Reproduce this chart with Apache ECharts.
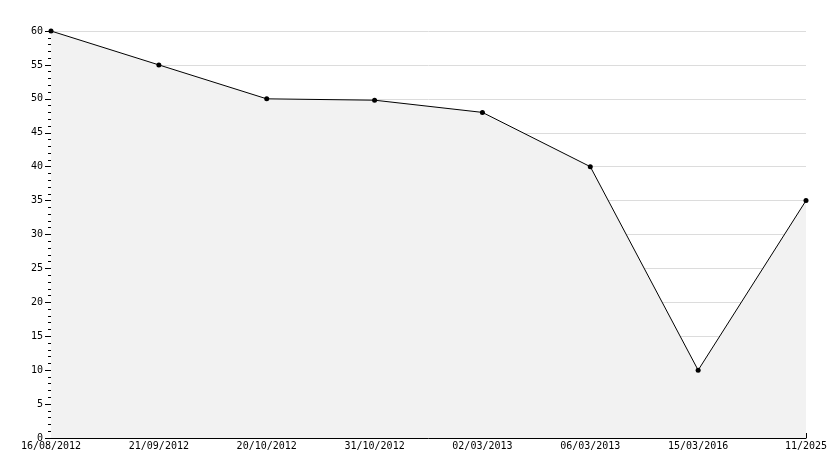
<!DOCTYPE html>
<html><head><meta charset="utf-8">
<script src="https://cdn.jsdelivr.net/npm/echarts@6/dist/echarts.min.js"></script>
<style>html,body{margin:0;background:#fff}#c{width:834px;height:468px}</style>
</head><body><div id="c"></div>
<script>
var dates = ['16/08/2012', '21/09/2012', '20/10/2012', '31/10/2012', '02/03/2013', '06/03/2013', '15/03/2016', '11/2025'];
var values = [60, 55, 50, 49.8, 48, 40, 10, 35];

var chart = echarts.init(document.getElementById('c'));
var font = {fontFamily: 'DejaVu Sans Mono', fontSize: 10, color: '#000'};
chart.setOption({
  animation: false,
  grid: {left: 51, right: 28, top: 31, bottom: 30},
  xAxis: {
    type: 'category', data: dates, boundaryGap: false,
    axisLine: {lineStyle: {color: '#000', width: 1}},
    axisTick: {inside: true, length: 5, lineStyle: {color: '#000'}},
    axisLabel: Object.assign({margin: 3, interval: 0}, font),
    splitLine: {show: false}
  },
  yAxis: {
    type: 'value', min: 0, max: 60, interval: 5,
    axisLine: {show: true, lineStyle: {color: '#000', width: 1}},
    axisTick: {show: true, length: 6, lineStyle: {color: '#000'}},
    minorTick: {show: true, splitNumber: 5, length: 3, lineStyle: {color: '#000'}},
    axisLabel: Object.assign({margin: 8}, font),
    splitLine: {lineStyle: {color: '#dcdcdc'}}
  },
  series: [{
    type: 'line', data: values,
    symbol: 'circle', symbolSize: 5,
    itemStyle: {color: '#000'},
    lineStyle: {color: '#000', width: 1},
    areaStyle: {color: '#f2f2f2', opacity: 1}
  }]
});
</script></body></html>
